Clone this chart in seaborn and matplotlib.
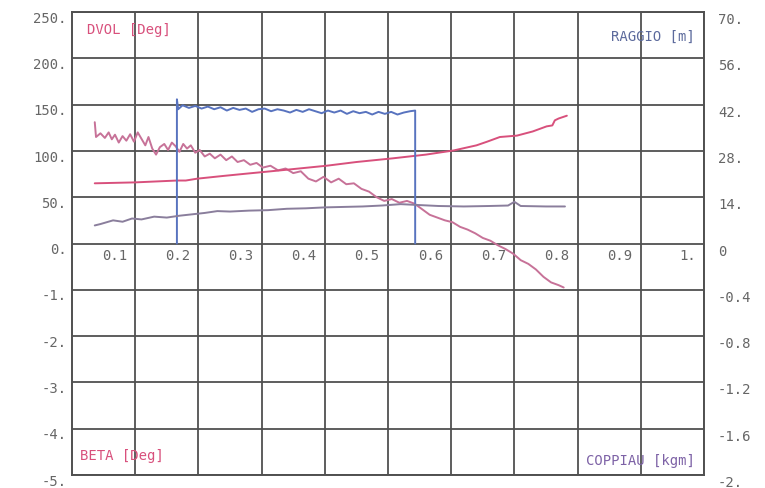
import numpy as np
import matplotlib
matplotlib.use("Agg")
import matplotlib.pyplot as plt
import matplotlib.transforms as mtransforms
import seaborn as sns

# ---- data -----------------------------------------------------------------
# BETA [Deg] (falling trace, left axis, lower half scale)
beta_x = [0.036, 0.038, 0.045, 0.052, 0.058, 0.063, 0.068, 0.074, 0.080, 0.086,
          0.092, 0.098, 0.104, 0.110, 0.116, 0.121, 0.127, 0.133, 0.139, 0.146,
          0.152, 0.158, 0.164, 0.170, 0.176, 0.182, 0.188, 0.195, 0.202, 0.210,
          0.218, 0.226, 0.235, 0.244, 0.253, 0.262, 0.272, 0.282, 0.292, 0.302,
          0.314, 0.326, 0.338, 0.350, 0.362, 0.374, 0.386, 0.398, 0.410, 0.422,
          0.434, 0.446, 0.458, 0.470, 0.482, 0.494, 0.506, 0.518, 0.530, 0.542,
          0.554, 0.566, 0.578, 0.590, 0.602, 0.614, 0.626, 0.638, 0.650, 0.662,
          0.674, 0.686, 0.698, 0.710, 0.722, 0.734, 0.746, 0.758, 0.770, 0.778]
beta = [2.62, 2.30, 2.38, 2.28, 2.40, 2.25, 2.35, 2.18, 2.32, 2.22,
        2.36, 2.20, 2.40, 2.26, 2.12, 2.30, 2.05, 1.92, 2.08, 2.15,
        2.02, 2.18, 2.10, 1.98, 2.15, 2.05, 2.12, 1.96, 2.02, 1.88,
        1.94, 1.84, 1.92, 1.80, 1.88, 1.76, 1.80, 1.70, 1.74, 1.64,
        1.68, 1.58, 1.62, 1.52, 1.56, 1.40, 1.34, 1.44, 1.32, 1.40,
        1.28, 1.30, 1.18, 1.12, 1.00, 0.92, 0.96, 0.88, 0.92, 0.86,
        0.74, 0.62, 0.56, 0.50, 0.46, 0.36, 0.30, 0.22, 0.12, 0.06,
        -0.04, -0.12, -0.22, -0.36, -0.44, -0.56, -0.72, -0.84, -0.90, -0.95]

# DVOL [Deg] (rising trace, left axis, upper half scale)
dvol_x = [0.036, 0.100, 0.166, 0.180, 0.198, 0.240, 0.277, 0.330, 0.403, 0.450,
          0.508, 0.560, 0.604, 0.640, 0.657, 0.677, 0.704, 0.729, 0.751, 0.760,
          0.764, 0.770, 0.783]
dvol = [65, 66, 68, 68, 70, 73, 75.5, 79, 84, 88,
        92, 96, 100.5, 106, 110, 115, 116.5, 121, 126.5, 127.5,
        133, 135, 138]

# RAGGIO [m] (pulse, right axis, upper half scale)
raggio_x = [0.166, 0.166, 0.168, 0.175, 0.185, 0.195, 0.205, 0.215, 0.225, 0.235,
            0.245, 0.255, 0.265, 0.275, 0.285, 0.295, 0.305, 0.315, 0.325, 0.335,
            0.345, 0.355, 0.365, 0.375, 0.385, 0.395, 0.405, 0.415, 0.425, 0.435,
            0.445, 0.455, 0.465, 0.475, 0.485, 0.495, 0.505, 0.515, 0.525, 0.535,
            0.543, 0.543]
raggio = [0.0, 43.6, 40.6, 41.8, 41.0, 41.6, 40.8, 41.4, 40.6, 41.2,
          40.2, 41.0, 40.4, 40.8, 39.8, 40.6, 40.8, 40.0, 40.6, 40.2,
          39.6, 40.4, 39.8, 40.6, 40.0, 39.4, 40.2, 39.6, 40.2, 39.2,
          40.0, 39.4, 39.8, 39.0, 39.8, 39.2, 39.8, 39.0, 39.6, 40.0,
          40.2, 0.0]

# COPPIAU [kgm] (flat trace, right axis, lower half scale)
copp_x = [0.036, 0.045, 0.065, 0.080, 0.095, 0.110, 0.130, 0.150, 0.170, 0.190,
          0.210, 0.230, 0.250, 0.280, 0.310, 0.340, 0.370, 0.400, 0.430, 0.460,
          0.490, 0.520, 0.550, 0.580, 0.620, 0.660, 0.690, 0.700, 0.710, 0.750,
          0.780]
copp = [0.156, 0.168, 0.200, 0.188, 0.216, 0.208, 0.232, 0.224, 0.240, 0.252,
        0.264, 0.280, 0.276, 0.284, 0.288, 0.300, 0.304, 0.312, 0.316, 0.320,
        0.328, 0.340, 0.332, 0.324, 0.320, 0.324, 0.328, 0.360, 0.324, 0.320,
        0.320]

# axis labelling
x_ticks = [0.1, 0.2, 0.3, 0.4, 0.5, 0.6, 0.7, 0.8, 0.9, 1.0]
x_labels = ["0.1", "0.2", "0.3", "0.4", "0.5", "0.6", "0.7", "0.8", "0.9", "1."]
left_labels = ["-5.", "-4.", "-3.", "-2.", "-1.", "0.", "50.", "100.", "150.", "200.", "250."]
right_labels = ["-2.", "-1.6", "-1.2", "-0.8", "-0.4", "0", "14.", "28.", "42.", "56.", "70."]

# ---- style ----------------------------------------------------------------
sns.set_theme(style="white")
plt.rcParams["font.family"] = ["DejaVu Sans Mono", "DejaVu Sans"]

GRID = "#505050"
TXT = "#666666"
PINK = "#d8507c"
MAUVE = "#c77298"
BLUE = "#5873bf"
PURP = "#8a7e9c"
FS = 10
LW = 1.4

fig = plt.figure(figsize=(7.65, 4.89), dpi=100)
fig.patch.set_facecolor("white")
ax = fig.add_axes([72 / 765, 1 - 476 / 489, 632 / 765, 463 / 489])

ax_dvol = ax.twinx()
ax_rag = ax.twinx()
ax_cop = ax.twinx()

ax.set_xlim(0, 1)
ax.set_ylim(-5, 5)
ax_dvol.set_ylim(-250, 250)
ax_rag.set_ylim(-70, 70)
ax_cop.set_ylim(-2, 2)

# grid
ax.set_xticks(x_ticks)
ax.set_xticklabels([])
ax.set_yticks(np.arange(-5, 6, 1))
ax.set_yticklabels(left_labels)
ax.grid(True, color=GRID, linewidth=1.3)
ax.tick_params(axis="both", length=0)
ax.tick_params(axis="y", pad=4, labelsize=FS, labelcolor=TXT)
for sp in ax.spines.values():
    sp.set_color(GRID)
    sp.set_linewidth(1.4)

# right axis labels (RAGGIO above, COPPIAU below)
ax_rag.set_yticks(np.arange(-70, 71, 14))
ax_rag.set_yticklabels(right_labels)
ax_rag.tick_params(axis="y", length=0, pad=10, labelsize=FS, labelcolor=TXT)

for a in (ax_dvol, ax_cop):
    a.set_yticks([])
for a in (ax_dvol, ax_rag, ax_cop):
    for sp in a.spines.values():
        sp.set_visible(False)

# nudge tick labels slightly below their grid line
down = mtransforms.ScaledTranslation(0, -3 / 72, fig.dpi_scale_trans)
for lab in ax.get_yticklabels():
    lab.set_transform(lab.get_transform() + down)
down_r = mtransforms.ScaledTranslation(0, -4 / 72, fig.dpi_scale_trans)
for lab in ax_rag.get_yticklabels():
    lab.set_transform(lab.get_transform() + down_r)

# x labels written along the zero line, just left of each grid line
xoff = mtransforms.ScaledTranslation(-6 / 72, -8 / 72, fig.dpi_scale_trans)
for xv, lab in zip(x_ticks, x_labels):
    ax.text(xv, 0, lab, transform=ax.transData + xoff, ha="right", va="center",
            fontsize=FS, color=TXT)

# traces
sns.lineplot(x=dvol_x, y=dvol, ax=ax_dvol, color=PINK, linewidth=LW,
             estimator=None, sort=False)
sns.lineplot(x=beta_x, y=beta, ax=ax, color=MAUVE, linewidth=LW,
             estimator=None, sort=False)
sns.lineplot(x=raggio_x, y=raggio, ax=ax_rag, color=BLUE, linewidth=LW,
             estimator=None, sort=False)
sns.lineplot(x=copp_x, y=copp, ax=ax_cop, color=PURP, linewidth=LW,
             estimator=None, sort=False)
for a in (ax_dvol, ax_rag, ax_cop):
    a.set_ylabel("")
ax.set_xlim(0, 1)

# variable names
ax.text(0.024, 0.963, "DVOL [Deg]", transform=ax.transAxes, fontsize=FS,
        color=PINK, ha="left", va="center")
ax.text(0.985, 0.948, "RAGGIO [m]", transform=ax.transAxes, fontsize=FS,
        color="#5c6a9c", ha="right", va="center")
ax.text(0.013, 0.043, "BETA [Deg]", transform=ax.transAxes, fontsize=FS,
        color=PINK, ha="left", va="center")
ax.text(0.985, 0.032, "COPPIAU [kgm]", transform=ax.transAxes, fontsize=FS,
        color="#7d62a6", ha="right", va="center")

fig.savefig("out.png", dpi=100, facecolor="white")
